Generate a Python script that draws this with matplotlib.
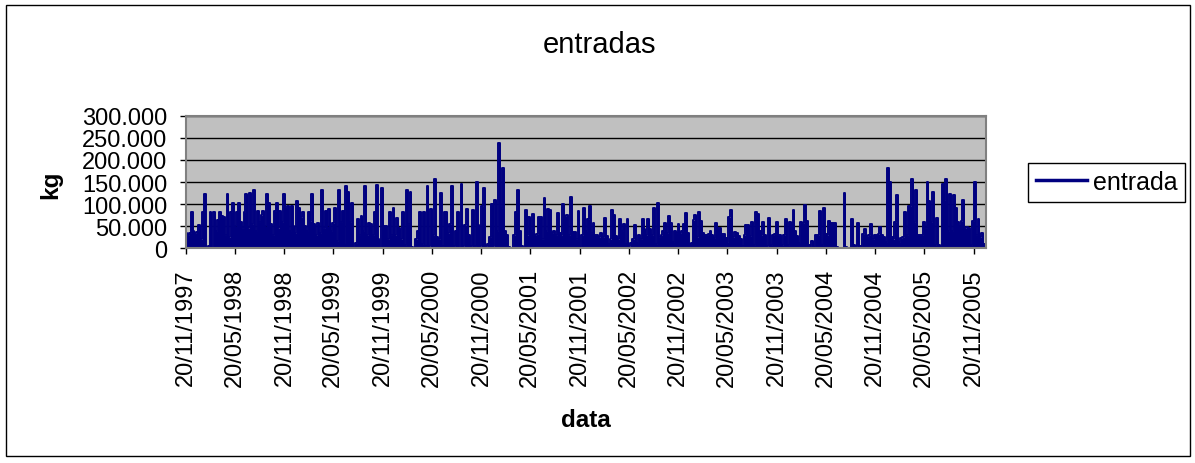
import numpy as np
import pandas as pd
import matplotlib
matplotlib.use("Agg")
import matplotlib.pyplot as plt
from matplotlib.patches import Rectangle
from matplotlib.ticker import FuncFormatter

plt.rcParams['font.family'] = ['Liberation Sans', 'DejaVu Sans']

# weekly entries (thousand kg), starting 20/11/1997
kg_1997_1999 = [35, 30, 35, 83, 40, 35, 38, 53, 20, 83,
                122, 0, 5, 83, 0, 83, 40, 65, 83, 72,
                70, 30, 122, 25, 83, 102, 50, 83, 102, 60,
                45, 83, 122, 45, 124, 55, 133, 40, 84, 60,
                75, 84, 50, 122, 103, 55, 30, 84, 102, 45,
                84, 60, 122, 90, 96, 40, 96, 50, 35, 107]
kg_1999_2000 = [92, 70, 83, 50, 40, 83, 62, 122, 54, 30,
                58, 35, 132, 45, 84, 50, 90, 40, 57, 92,
                17, 133, 60, 84, 13, 141, 127, 60, 102, 0,
                12, 66, 30, 73, 40, 141, 30, 57, 54, 30,
                83, 143, 20, 0, 136, 50, 50, 20, 83, 30,
                92, 30, 68, 45, 20, 83, 8, 131, 55, 128]
kg_2000_2001 = [3, 0, 20, 40, 83, 10, 83, 5, 140, 5,
                88, 30, 156, 25, 20, 124, 5, 83, 83, 34,
                55, 141, 5, 40, 83, 0, 146, 5, 52, 90,
                30, 5, 87, 5, 151, 52, 5, 96, 136, 5,
                10, 25, 100, 5, 109, 40, 239, 92, 182, 40,
                30, 2, 0, 0, 30, 83, 133, 40, 5, 0]
kg_2001_2002 = [86, 30, 70, 40, 78, 30, 32, 70, 70, 20,
                113, 40, 90, 87, 35, 40, 30, 79, 35, 30,
                100, 73, 75, 30, 115, 38, 38, 20, 84, 2,
                30, 92, 40, 66, 96, 35, 58, 30, 30, 25,
                35, 25, 68, 28, 10, 20, 87, 75, 28, 20,
                66, 40, 54, 10, 66, 5, 13, 20, 52, 13]
kg_2002_2003 = [30, 20, 66, 43, 30, 66, 43, 30, 92, 10,
                102, 25, 30, 40, 58, 35, 72, 58, 15, 40,
                35, 56, 35, 40, 56, 79, 35, 10, 13, 63,
                75, 25, 82, 62, 35, 30, 30, 32, 40, 30,
                24, 58, 45, 45, 33, 32, 24, 15, 70, 86,
                25, 38, 35, 28, 20, 5, 30, 53, 53, 28,
                60]
kg_2003_2004 = [8, 81, 77, 40, 30, 60, 30, 5, 68, 8,
                30, 32, 60, 30, 30, 8, 30, 66, 8, 60,
                58, 86, 40, 28, 13, 60, 57, 97, 62, 8,
                3, 17, 3, 30, 30, 84, 8, 92, 32, 30,
                62, 58, 58, 58, 3, 0, 0, 0, 124, 3,
                0, 0, 66, 8, 5, 58, 5, 3, 33, 43,
                28]
kg_2004_2006 = [30, 56, 20, 30, 30, 32, 48, 30, 25, 15,
                181, 151, 25, 20, 60, 121, 15, 23, 25, 83,
                30, 96, 96, 156, 60, 131, 30, 30, 30, 60,
                45, 150, 107, 60, 127, 8, 68, 8, 3, 145,
                110, 156, 40, 122, 40, 121, 92, 60, 50, 62,
                109, 45, 48, 45, 8, 62, 151, 30, 66, 25,
                35, 10, 3]

tick_labels = ['20/11/1997', '20/05/1998', '20/11/1998', '20/05/1999',
               '20/11/1999', '20/05/2000', '20/11/2000', '20/05/2001',
               '20/11/2001', '20/05/2002', '20/11/2002', '20/05/2003',
               '20/11/2003', '20/05/2004', '20/11/2004', '20/05/2005',
               '20/11/2005']

entrada = np.array(kg_1997_1999 + kg_1999_2000 + kg_2000_2001 + kg_2001_2002
                   + kg_2002_2003 + kg_2003_2004 + kg_2004_2006) * 1000
datas = pd.date_range('1997-11-20', periods=len(entrada), freq='7D')
ticks = pd.to_datetime(tick_labels, format='%d/%m/%Y')

W, H = 1195, 464
fig = plt.figure(figsize=(W / 100, H / 100), dpi=100)
ax = fig.add_axes([186 / W, 1 - 249.3 / H, 800 / W, 132.6 / H])
ax.set_facecolor('#c0c0c0')

# dense daily strokes read as a solid mass under the line
ax.fill_between(datas, 0, entrada, step='mid', color='#000080', lw=0)
ax.plot(datas, entrada, color='#000080', lw=1.4, drawstyle='steps-mid',
        label='entrada')

ax.set_xlim(datas[0], datas[-1])
ax.set_ylim(0, 300000)
ax.set_yticks(np.arange(0, 300001, 50000))
ax.yaxis.set_major_formatter(FuncFormatter(lambda v, p: f"{int(v):,}".replace(",", ".")))
ax.yaxis.grid(True, color='black', lw=1)
ax.set_axisbelow(True)

ax.set_xticks(ticks)
ax.set_xticklabels(tick_labels, rotation=90)
ax.tick_params(axis='both', direction='out', length=4.3, width=1,
               colors='black', labelsize=17)
ax.tick_params(axis='x', pad=10)
ax.tick_params(axis='y', pad=9)

for side in ['left', 'bottom', 'top', 'right']:
    ax.spines[side].set_color('#808080')
    ax.spines[side].set_linewidth(1.5)

fig.text(599 / W, 1 - 45 / H, 'entradas', ha='center', va='center', fontsize=21)
fig.text(586 / W, 1 - 421 / H, 'data', ha='center', va='center',
         fontsize=17.5, fontweight='bold')
fig.text(51 / W, 1 - 185 / H, 'kg', ha='center', va='center', rotation=90,
         fontsize=17.5, fontweight='bold')

leg = ax.legend(loc='center left', bbox_to_anchor=(1028 / W, 1 - 183 / H),
                bbox_transform=fig.transFigure, borderaxespad=0, fontsize=18,
                fancybox=False, framealpha=1, edgecolor='black',
                handlelength=2.05, handletextpad=0.25, borderpad=0.3)
leg.get_frame().set_linewidth(1)
leg.get_lines()[0].set_linewidth(2.5)

fig.patches.append(Rectangle((6 / W, 1 - 457 / H), 1184 / W, 451 / H,
                             transform=fig.transFigure, fill=False,
                             ec='black', lw=1))

fig.savefig('out.png', dpi=100)
